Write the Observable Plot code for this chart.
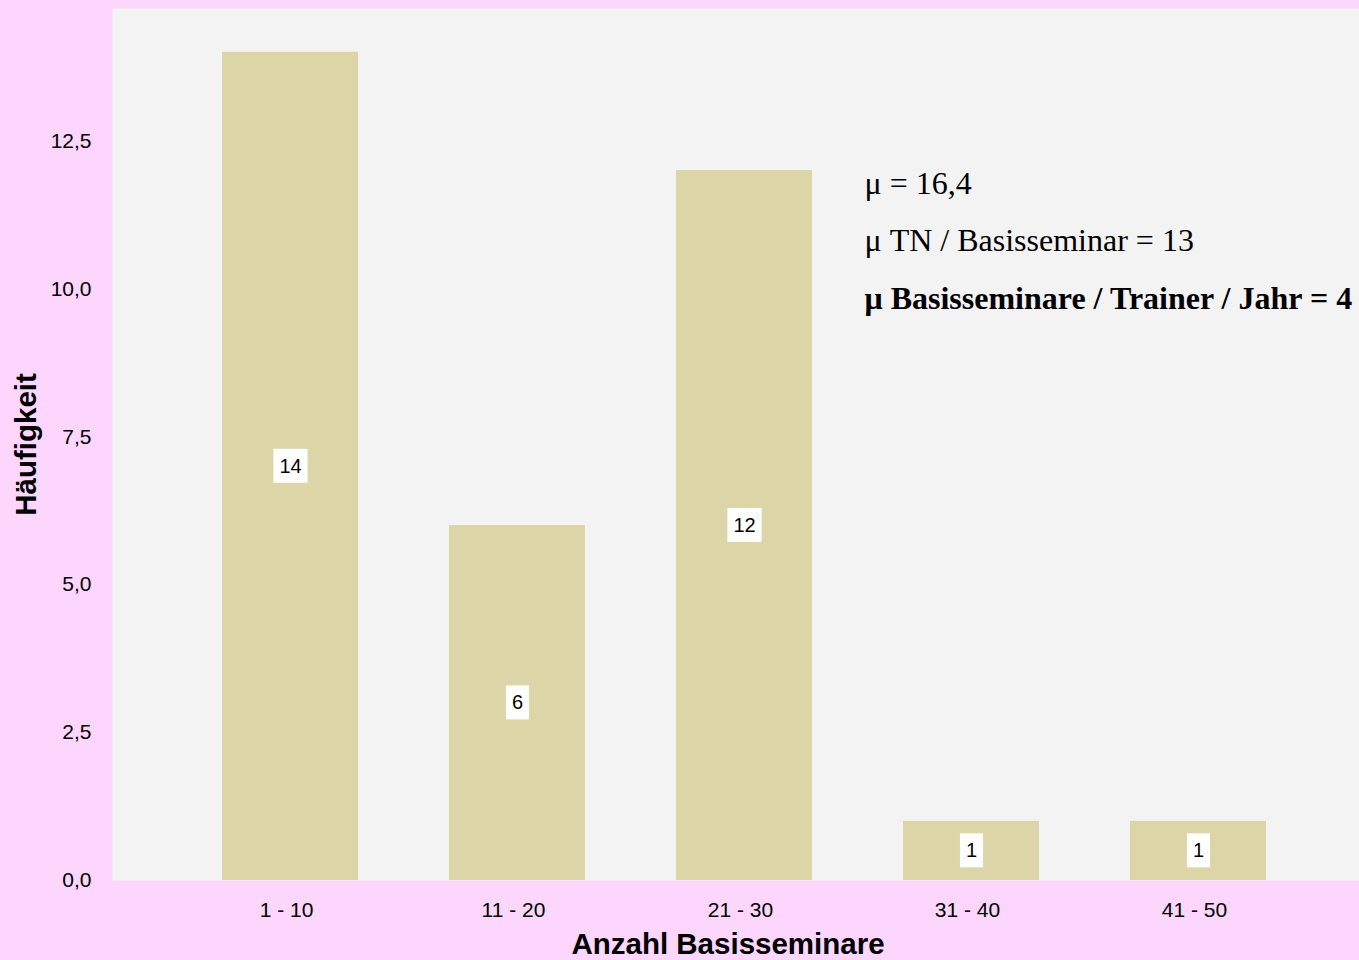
<!DOCTYPE html>
<html><head><meta charset="utf-8">
<script src="https://cdn.jsdelivr.net/npm/d3@7"></script>
<script src="https://cdn.jsdelivr.net/npm/@observablehq/plot@0.6"></script>
<style>html,body{margin:0;padding:0;background:#FCD6FC;} svg{display:block;}</style>
</head><body><div id="chart"></div>
<script>
const categories = ["1 - 10", "11 - 20", "21 - 30", "31 - 40", "41 - 50"];
const counts = [14, 6, 12, 1, 1];
const yTicks = [0, 2.5, 5, 7.5, 10, 12.5];
const statLines = ["μ = 16,4", "μ TN / Basisseminar = 13", "μ Basisseminare / Trainer / Jahr = 4"];
const statBold = [false, false, true];
const xTitle = "Anzahl Basisseminare";
const yTitle = "Häufigkeit";

const data = categories.map((c, i) => ({cat: c, n: counts[i]}));
const fmt = v => v.toFixed(1).replace(".", ",");

const statMarks = statLines.map((t, i) => Plot.text([t], {
  text: d => d,
  frameAnchor: "top-left",
  textAnchor: "start",
  lineAnchor: "bottom",
  dx: 752,
  dy: [185, 242, 300][i],
  fontFamily: "Liberation Serif, Times New Roman, serif",
  fontSize: 32,
  fontWeight: statBold[i] ? "bold" : "normal",
  fill: "#000"
}));

const chart = Plot.plot({
  width: 1359, height: 960,
  marginLeft: 112, marginRight: 0, marginTop: 8, marginBottom: 80,
  style: {background: "#FCD6FC", fontFamily: "Liberation Sans, Arial, sans-serif", fontSize: "21px", color: "#000"},
  x: {domain: categories, range: [221, 1267], paddingInner: 0.4, paddingOuter: 0, label: null},
  y: {domain: [0, 14.74], label: null},
  marks: [
    Plot.frame({fill: "#F3F3F3", stroke: "none"}),
    Plot.barY(data, {x: "cat", y: "n", fill: "#DCD5A8"}),
    Plot.axisX({tickSize: 0, tickPadding: 22, dx: -4, label: null, fontSize: 21}),
    Plot.axisY({ticks: yTicks, tickFormat: fmt, tickSize: 0, tickPadding: 21, label: null, fontSize: 21}),
    Plot.text(data, {x: "cat", y: d => d.n / 2, text: d => String(d.n), fontSize: 20, fill: "#010101", ariaDescription: "value-labels"}),
    Plot.text([yTitle], {text: d => d, frameAnchor: "left", textAnchor: "middle", lineAnchor: "middle", rotate: -90, dx: -86, fontWeight: "bold", fontSize: 29.5, fill: "#000"}),
    Plot.text([xTitle], {text: d => d, frameAnchor: "bottom", lineAnchor: "bottom", dy: 73, dx: -8, fontWeight: "bold", fontSize: 29.5, fill: "#000"}),
    ...statMarks
  ]
});

document.getElementById("chart").appendChild(chart);

// white boxes behind value labels
const svgNS = "http://www.w3.org/2000/svg";
let labelTexts = chart.querySelectorAll('g[aria-description="value-labels"] text');
if (!labelTexts.length) labelTexts = chart.querySelectorAll('g[fill="#010101"] text');
labelTexts.forEach(t => {
  const b = t.getBBox();
  const r = document.createElementNS(svgNS, "rect");
  const cy = b.y + b.height / 2;
  r.setAttribute("x", b.x - 6);
  r.setAttribute("width", b.width + 12);
  r.setAttribute("y", cy - 17);
  r.setAttribute("height", 34);
  r.setAttribute("fill", "#FFFFFF");
  const tr = t.getAttribute("transform");
  if (tr) r.setAttribute("transform", tr);
  t.parentNode.insertBefore(r, t);
});
</script>
</body></html>
